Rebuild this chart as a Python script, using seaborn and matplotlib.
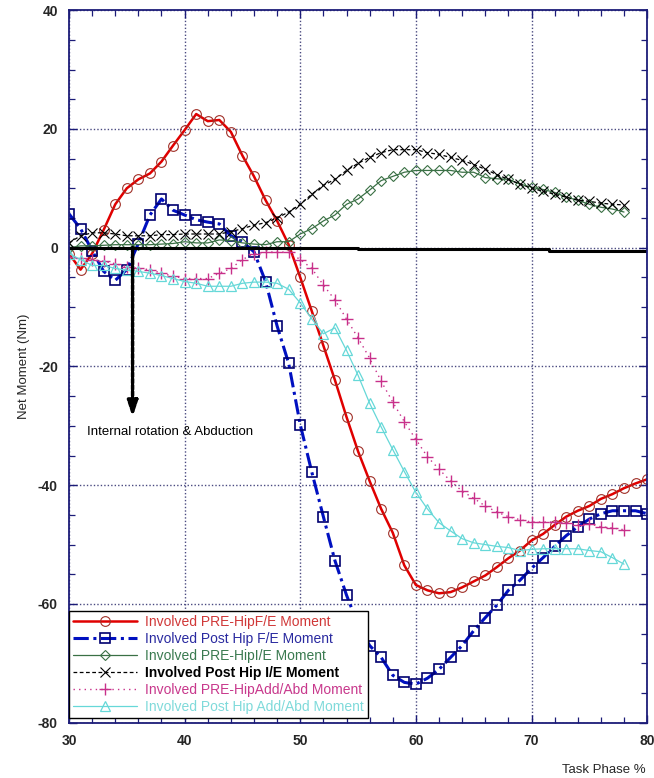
import matplotlib
matplotlib.use("Agg")
import matplotlib.pyplot as plt
from matplotlib.ticker import MultipleLocator
import numpy as np
import seaborn as sns

# ── Data ───────────────────────────────────────────────────────────────────
phase_full = list(range(30, 81))     # 30..80 %
phase_short = list(range(30, 79))    # 30..78 %

pre_fe = [-1, -3.7, -1, 3, 7.3, 10, 11.5, 12.5, 14.5, 17.2,
          19.8, 22.5, 21.3, 21.5, 19.5, 15.5, 12, 8, 4.5, 0.5,
          -5, -10.7, -16.5, -22.3, -28.5, -34.3, -39.3, -44, -48, -53.5,
          -56.8, -57.7, -58.2, -58, -57.2, -56.2, -55.2, -53.8, -52.3, -51,
          -49.3, -48.2, -46.7, -45.3, -44.3, -43.5, -42.3, -41.5, -40.5, -39.7, -39]

post_fe = [5.7, 3.2, -0.5, -4, -5.5, -3.7, 0.7, 5.5, 8.2, 6.3,
           5.5, 4.7, 4.3, 4, 2, 1, -0.7, -5.7, -13.2, -19.5,
           -29.8, -37.8, -45.3, -52.7, -58.5, -63.5, -67, -69, -72, -73.2,
           -73.5, -72.5, -71, -69, -67, -64.5, -62.3, -60.2, -57.7, -56,
           -54, -52.2, -50.3, -48.5, -47, -45.7, -44.8, -44.3, -44.3, -44.3, -44.8]

pre_ie = [0, 0.3, 0.3, 0.4, 0.5, 0.5, 0.5, 0.5, 0.6, 0.7,
          1, 0.8, 0.8, 1.3, 1.2, 0.8, 0.6, 0.5, 1, 1,
          2.3, 3.2, 4.5, 5.5, 7.3, 8.2, 9.7, 11.3, 12, 12.7,
          13, 13, 13, 13, 12.7, 12.7, 11.8, 11.6, 11.5, 10.7,
          10.2, 9.8, 9.3, 8.5, 8, 7.3, 6.8, 6.5, 6]

post_ie = [0.8, 2, 2.5, 2.5, 2.3, 2, 2, 2, 2.2, 2.2,
           2.3, 2.3, 2.3, 2.3, 2.7, 3.2, 3.8, 4.2, 5, 6,
           7.3, 9, 10.5, 11.5, 13, 14.2, 15.2, 16, 16.5, 16.5,
           16.5, 16, 15.7, 15.2, 14.7, 14, 13.2, 12.3, 11.5, 10.7,
           10, 9.5, 9, 8.5, 8, 7.8, 7.5, 7.3, 7.2]

pre_aa = [-1.5, -1.8, -2, -2.3, -2.7, -3.2, -3.5, -3.7, -4.3, -4.8,
          -5.2, -5.2, -5.2, -4.3, -3.5, -2, -1, -0.8, -0.7, -0.8,
          -2, -3.5, -6.3, -8.8, -12, -15.2, -18.6, -22.5, -26, -29.3,
          -32.3, -35.2, -37.3, -39.3, -41, -42.2, -43.5, -44.5, -45.3, -45.8,
          -46.2, -46.2, -46.2, -46.3, -46.7, -46.5, -47, -47.2, -47.5]

post_aa = [-1, -2, -3, -3, -3.5, -3.8, -4, -4.3, -4.7, -5.2,
           -5.7, -6, -6.5, -6.5, -6.5, -6, -5.8, -5.8, -6, -7,
           -9.3, -12, -14.5, -13.5, -17.3, -21.5, -26.2, -30.2, -34, -37.7,
           -41.2, -44, -46.3, -47.7, -49, -49.7, -50, -50.3, -50.5, -51,
           -50.8, -50.7, -50.7, -50.7, -50.7, -51, -51.2, -52.2, -53.3]

# thick zero reference line (small steps as in the original)
zero_x = [30, 55, 55, 71.5, 71.5, 80]
zero_y = [0, 0, -0.3, -0.3, -0.6, -0.6]

labels = [
    "Involved PRE-HipF/E Moment",
    "Involved Post Hip F/E Moment",
    "Involved PRE-HipI/E Moment",
    "Involved Post Hip I/E Moment",
    "Involved PRE-HipAdd/Abd Moment",
    "Involved Post Hip Add/Abd Moment",
]

ARROW_X, ARROW_TOP, ARROW_BOTTOM = 35.5, 0, -28.5
NOTE_X, NOTE_Y = 31.6, -31

# ── Style ──────────────────────────────────────────────────────────────────
sns.set_style("ticks")
plt.rcParams["font.family"] = ["Liberation Sans", "DejaVu Sans"]
plt.rcParams["axes.unicode_minus"] = False

NAVY = "#1c1c78"
GRID = "#4a4a80"

fig = plt.figure(figsize=(6.54, 7.78), dpi=100)
ax = fig.add_axes([0.1055, 0.071, 0.884, 0.916])

series = [
    (phase_full, pre_fe, dict(color="#e00000", lw=1.8, ls="-", marker="o", ms=7,
                              mfc="none", mec="#a03028", mew=0.8)),
    (phase_full, post_fe, dict(color="#0010c0", lw=2.2, ls=(0, (5, 1.5, 1, 1.5)), marker="s", ms=7,
                               mfc="none", mec="#000070", mew=1.2)),
    (phase_short, pre_ie, dict(color="#3a7045", lw=0.9, ls="-", marker="D", ms=5,
                               mfc="none", mec="#3a7045", mew=0.8)),
    (phase_short, post_ie, dict(color="black", lw=0.9, ls=(0, (3, 2)), marker="x", ms=7,
                                mec="black", mew=0.8)),
    (phase_short, pre_aa, dict(color="#c8308a", lw=1.0, ls=(0, (1, 3)), marker="+", ms=9,
                               mec="#c8308a", mew=1.0)),
    (phase_short, post_aa, dict(color="#66d8d8", lw=0.9, ls="-", marker="^", ms=7,
                                mfc="none", mec="#66d8d8", mew=0.9)),
]

handles = []
for (xs, ys, kw), lab in zip(series, labels):
    sns.lineplot(x=xs, y=ys, ax=ax, label=lab, **kw)
    handles.append(ax.lines[-1])

sns.lineplot(x=zero_x, y=zero_y, ax=ax, color="black", lw=2.2, sort=False,
             estimator=None, legend=False)

# annotation arrow
ax.annotate("", xy=(ARROW_X, ARROW_BOTTOM), xytext=(ARROW_X, ARROW_TOP),
            arrowprops=dict(arrowstyle="-|>,head_length=0.9,head_width=0.3",
                            color="black", lw=2.5, linestyle=(0, (1.2, 0.6)),
                            shrinkA=0, shrinkB=0))
ax.text(NOTE_X, NOTE_Y, "Internal rotation & Abduction", fontsize=9.5,
        ha="left", va="center", color="black")

# ── Axes ───────────────────────────────────────────────────────────────────
ax.set_xlim(30, 80)
ax.set_ylim(-80, 40)
ax.xaxis.set_major_locator(MultipleLocator(10))
ax.xaxis.set_minor_locator(MultipleLocator(2))
ax.yaxis.set_major_locator(MultipleLocator(20))
ax.yaxis.set_minor_locator(MultipleLocator(5))
ax.tick_params(which="both", direction="in", top=True, right=True, color=NAVY)
ax.tick_params(which="major", length=6, width=1.0, labelsize=10, pad=8)
ax.tick_params(which="minor", length=4, width=0.9)
for lab in ax.get_xticklabels() + ax.get_yticklabels():
    lab.set_fontweight("bold")
for sp in ax.spines.values():
    sp.set_color(NAVY)
    sp.set_linewidth(1.3)
ax.grid(True, which="major", color=GRID, ls=(0, (1, 1.5)), lw=1.0)

ax.set_ylabel("Net Moment (Nm)", fontsize=9.5, labelpad=6)
ax.set_xlabel("Task Phase %", fontsize=9.5)
ax.xaxis.set_label_coords(0.925, -0.058)

# ── Legend ─────────────────────────────────────────────────────────────────
leg = ax.legend(handles=handles, labels=labels, loc="lower left",
                bbox_to_anchor=(0.0, 0.006), borderaxespad=0, fontsize=10,
                handlelength=4.6, numpoints=1, fancybox=False, framealpha=1,
                edgecolor="black", labelspacing=0.22, borderpad=0.3,
                handletextpad=0.6)
leg.get_frame().set_linewidth(1.0)
text_colors = ["#d03838", "#2a2aa0", "#3a7a50", "black", "#c8388c", "#7fdada"]
for t, c in zip(leg.get_texts(), text_colors):
    t.set_color(c)
leg.get_texts()[3].set_fontweight("bold")

fig.savefig("out.png", dpi=100)
